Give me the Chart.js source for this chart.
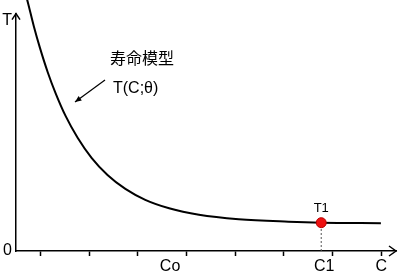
<!DOCTYPE html>
<html>
<head>
<meta charset="utf-8">
<script src="https://cdn.jsdelivr.net/npm/chart.js@4/dist/chart.umd.min.js"></script>
<style>
  html, body { margin: 0; padding: 0; background: #fff; }
  canvas { display: block; }
</style>
</head>
<body>
<canvas id="chartLife" width="402" height="275"></canvas>
<script>
// curve T(C;θ)
const curveC = [0.204, 0.245, 0.367, 0.490, 0.653, 0.816, 1.020, 1.265, 1.551, 1.878, 2.245, 2.653, 3.143, 3.755, 4.571, 5.592, 6.265, 7.49];
const curveT = [10.30, 10.00, 9.04, 8.19, 7.19, 6.34, 5.43, 4.56, 3.75, 3.06, 2.50, 2.06, 1.72, 1.46, 1.28, 1.18, 1.14, 1.12];

// marked point T1 at C1
const pointC = [6.265];
const pointT = [1.14];

// x axis: tick marks and labelled positions
const xTickMarks = [0.5, 1.5, 2.5, 3.5, 4.5, 5.5, 6.5, 7.5];
const xLabelValues = [3.163, 6.327, 7.5];
const xLabelTexts = ['Co', 'C1', 'C'];

// y axis labels
const yLabelValues = [0, 9.28];
const yLabelTexts = ['0', 'T'];

const FONT = '"Liberation Sans", Arial, "Noto Sans CJK JP", sans-serif';

const curveData = curveC.map((c, i) => ({ x: c, y: curveT[i] }));
const pointData = pointC.map((c, i) => ({ x: c, y: pointT[i] }));
const dropData = [{ x: pointC[0], y: 0 }, { x: pointC[0], y: pointT[0] }];

const xTicksAll = Array.from(new Set([...xTickMarks, ...xLabelValues])).sort((a, b) => a - b);

const decorations = {
  id: 'decorations',
  afterDraw(chart) {
    const { ctx, chartArea, scales } = chart;
    ctx.save();
    ctx.strokeStyle = '#000';
    ctx.lineWidth = 1.5;

    // axis arrowheads (open)
    const xr = chartArea.right;
    const yb = chartArea.bottom;
    ctx.beginPath();
    ctx.moveTo(xr - 7, yb - 5);
    ctx.lineTo(xr, yb);
    ctx.lineTo(xr - 7, yb + 5);
    ctx.stroke();

    const xl = chartArea.left;
    const yt = chartArea.top;
    ctx.beginPath();
    ctx.moveTo(xl - 4, yt + 6);
    ctx.lineTo(xl, yt);
    ctx.lineTo(xl + 4, yt + 6);
    ctx.stroke();

    // annotation text
    ctx.fillStyle = '#000';
    ctx.font = '16px ' + FONT;
    ctx.textBaseline = 'middle';
    ctx.textAlign = 'left';
    ctx.fillText('寿命模型', 110, 60);
    ctx.fillText('T(C;θ)', 113, 89);

    // annotation arrow
    const x0 = 105, y0 = 80, x1 = 75, y1 = 102;
    ctx.lineWidth = 1.2;
    ctx.beginPath();
    ctx.moveTo(x0, y0);
    ctx.lineTo(x1, y1);
    ctx.stroke();
    const ang = Math.atan2(y1 - y0, x1 - x0);
    ctx.beginPath();
    ctx.moveTo(x1, y1);
    ctx.lineTo(x1 - 7 * Math.cos(ang - 0.4), y1 - 7 * Math.sin(ang - 0.4));
    ctx.lineTo(x1 - 7 * Math.cos(ang + 0.4), y1 - 7 * Math.sin(ang + 0.4));
    ctx.closePath();
    ctx.fill();

    // T1 label above point
    const px = scales.x.getPixelForValue(pointC[0]);
    const py = scales.y.getPixelForValue(pointT[0]);
    ctx.font = '13px ' + FONT;
    ctx.textAlign = 'center';
    ctx.fillText('T1', px, py - 14);
    ctx.restore();
  },
};

new Chart(document.getElementById('chartLife').getContext('2d'), {
  type: 'line',
  data: {
    datasets: [
      {
        label: 'T1',
        data: pointData,
        showLine: false,
        pointRadius: 5,
        pointBackgroundColor: '#ee1111',
        pointBorderColor: '#b80000',
        pointBorderWidth: 1,
        order: 0,
      },
      {
        label: 'T(C;θ)',
        data: curveData,
        borderColor: '#000',
        borderWidth: 2,
        pointRadius: 0,
        cubicInterpolationMode: 'monotone',
        clip: false,
        order: 1,
      },
      {
        label: 'drop',
        data: dropData,
        borderColor: '#555',
        borderWidth: 1,
        borderDash: [2, 2],
        pointRadius: 0,
        order: 2,
      },
    ],
  },
  options: {
    responsive: false,
    animation: false,
    events: [],
    layout: { padding: { top: 12, right: 4, left: 0, bottom: 0 } },
    scales: {
      x: {
        type: 'linear',
        min: 0,
        max: 7.8,
        afterFit(scale) { scale.height = 24; },
        afterBuildTicks(scale) { scale.ticks = xTicksAll.map((v) => ({ value: v })); },
        border: { display: true, color: '#000', width: 1.5 },
        grid: {
          drawOnChartArea: false,
          drawTicks: true,
          tickLength: 5,
          tickWidth: 1.5,
          tickColor: (ctx) => (ctx.tick && xTickMarks.includes(ctx.tick.value) ? '#000' : 'rgba(0,0,0,0)'),
        },
        ticks: {
          autoSkip: false,
          maxRotation: 0,
          padding: 1,
          color: '#000',
          font: { family: FONT, size: 16 },
          callback(value) {
            const i = xLabelValues.indexOf(value);
            return i >= 0 ? xLabelTexts[i] : '';
          },
        },
      },
      y: {
        type: 'linear',
        min: 0,
        max: 9.56,
        afterFit(scale) { scale.width = 16; },
        afterBuildTicks(scale) { scale.ticks = yLabelValues.map((v) => ({ value: v })); },
        border: { display: true, color: '#000', width: 1.5 },
        grid: { drawOnChartArea: false, drawTicks: false },
        ticks: {
          padding: 4,
          color: '#000',
          font: { family: FONT, size: 16 },
          callback(value) {
            const i = yLabelValues.indexOf(value);
            return i >= 0 ? yLabelTexts[i] : '';
          },
        },
      },
    },
    plugins: {
      legend: { display: false },
      tooltip: { enabled: false },
    },
  },
  plugins: [decorations],
});
</script>
</body>
</html>
